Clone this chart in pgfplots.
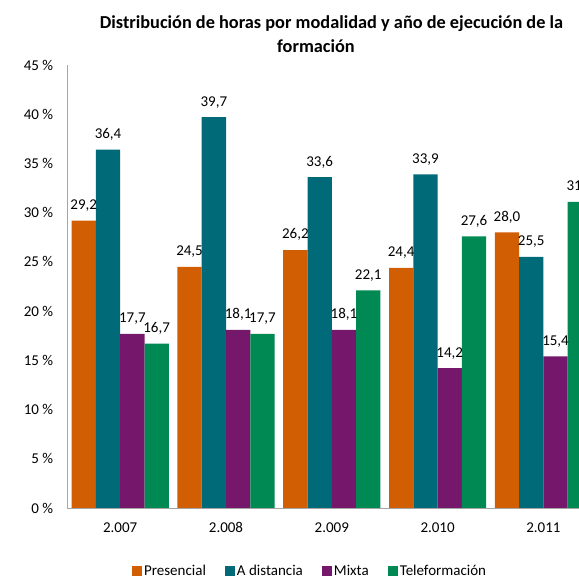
\documentclass[border=0pt]{standalone}
\usepackage{pgfplots}
\pgfplotsset{compat=1.18}
\usepackage{fontspec}
\setmainfont{Carlito}
\definecolor{cPres}{RGB}{210,94,4}
\definecolor{cDist}{RGB}{0,106,120}
\definecolor{cMix}{RGB}{117,24,107}
\definecolor{cTele}{RGB}{0,137,82}
\definecolor{axgray}{RGB}{166,166,166}
\newcommand{\fs}{\fontsize{15}{18}\selectfont}
\begin{document}
\begin{tikzpicture}[x=1pt,y=1pt]
\begin{axis}[
  at={(67.3pt,70pt)}, anchor=south west,
  scale only axis, width=529pt, height=443pt,
  xmin=-0.5, xmax=4.5, ymin=0, ymax=45,
  ybar=0pt, bar width=24.3pt,
  axis x line*=bottom, axis y line*=left,
  axis line style={draw=axgray, line width=0.8pt, -},
  major tick length=0pt,
  xtick={0,1,2,3,4},
  xticklabels={2.007,2.008,2.009,2.010,2.011},
  ytick={0,5,...,45},
  yticklabel={\pgfmathprintnumber{\tick} \%},
  /pgf/number format/assume math mode=true,
  xticklabel style={font=\fs, inner sep=0pt, anchor=north, yshift=-14.5pt},
  yticklabel style={font=\fs, inner sep=0pt, anchor=east, xshift=-14pt},
  nodes near coords,
  nodes near coords style={font=\fs, inner sep=0pt, anchor=south, yshift=9pt, black,
    /pgf/number format/.cd, use comma, fixed, fixed zerofill, precision=1, assume math mode=true},
  legend columns=4,
  legend image code/.code={\fill[#1] (0pt,-5pt) rectangle (10pt,5pt);},
  legend style={at={(0.459,-0.142)}, anchor=center, draw=none, fill=none, font=\fs,
    /tikz/every even column/.append style={column sep=17pt},
    nodes={inner sep=2pt}},
]
\addplot[fill=cPres, draw=none] coordinates {(0,29.2) (1,24.5) (2,26.2) (3,24.4) (4,28.0)};
\addlegendentry{Presencial}
\addplot[fill=cDist, draw=none] coordinates {(0,36.4) (1,39.7) (2,33.6) (3,33.9) (4,25.5)};
\addlegendentry{A distancia}
\addplot[fill=cMix, draw=none] coordinates {(0,17.7) (1,18.1) (2,18.1) (3,14.2) (4,15.4)};
\addlegendentry{Mixta}
\addplot[fill=cTele, draw=none] coordinates {(0,16.7) (1,17.7) (2,22.1) (3,27.6) (4,31.1)};
\addlegendentry{Teleformación}
\end{axis}
\node[font=\fontsize{18.3}{22}\bfseries, anchor=center] at (331.5pt,554pt) {Distribución de horas por modalidad y año de ejecución de la};
\node[font=\fontsize{18.3}{22}\bfseries, anchor=center] at (316pt,532pt) {formación};
\pgfresetboundingbox
\useasboundingbox (0pt,0pt) rectangle (579pt,578pt);
\end{tikzpicture}
\end{document}
